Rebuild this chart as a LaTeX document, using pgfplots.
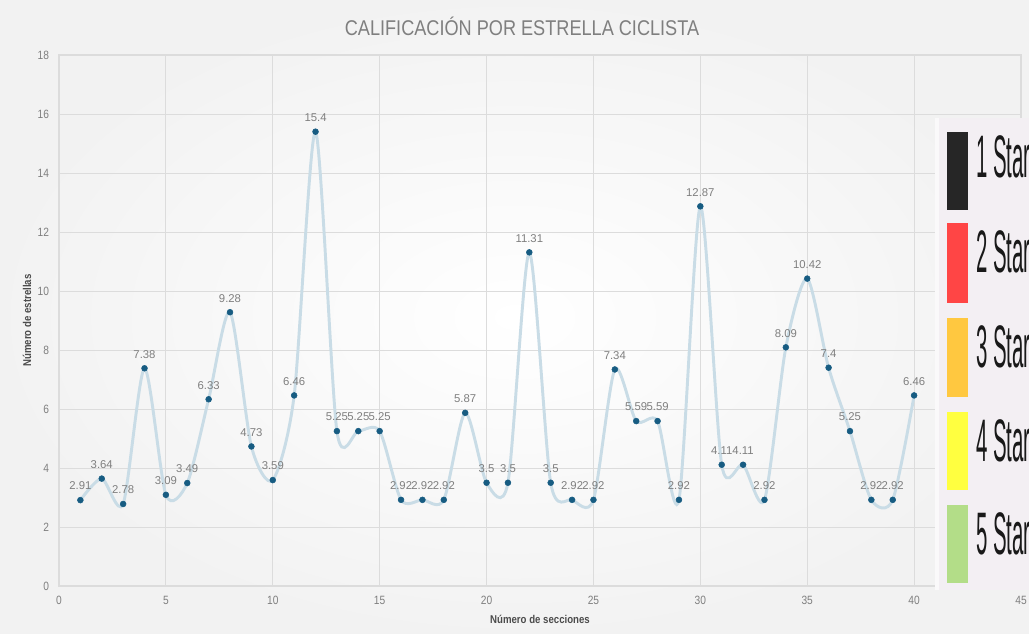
\documentclass[border=0pt]{standalone}
\usepackage{pgfplots}
\pgfplotsset{compat=1.18}
\usepackage{pgfplotstable}
\usepackage{fontspec}
\setmainfont{Liberation Sans}
\newfontfamily\narrowfont{Liberation Sans}[FakeStretch=0.85]

\definecolor{txtgray}{HTML}{7F7F7F}
\definecolor{gridgray}{HTML}{DCDCDC}
\definecolor{linecol}{HTML}{C9DCE6}
\definecolor{markcol}{HTML}{175C82}
\definecolor{keybg}{HTML}{F3EFF3}
\definecolor{star1}{HTML}{262626}
\definecolor{star2}{HTML}{FF4545}
\definecolor{star3}{HTML}{FFC840}
\definecolor{star4}{HTML}{FFFF40}
\definecolor{star5}{HTML}{B3DD88}

% sección, estrellas
\pgfplotstableread{
x y lab
1 2.91 2.91
2 3.64 3.64
3 2.78 2.78
4 7.38 7.38
5 3.09 3.09
6 3.49 3.49
7 6.33 6.33
8 9.28 9.28
9 4.73 4.73
10 3.59 3.59
11 6.46 6.46
12 15.4 15.4
13 5.25 5.25
14 5.25 5.25
15 5.25 5.25
16 2.92 2.92
17 2.92 2.92
18 2.92 2.92
19 5.87 5.87
20 3.5 3.5
21 3.5 3.5
22 11.31 11.31
23 3.5 3.5
24 2.92 2.92
25 2.92 2.92
26 7.34 7.34
27 5.59 5.59
28 5.59 5.59
29 2.92 2.92
30 12.87 12.87
31 4.11 4.11
32 4.11 4.11
33 2.92 2.92
34 8.09 8.09
35 10.42 10.42
36 7.4 7.4
37 5.25 5.25
38 2.92 2.92
39 2.92 2.92
40 6.46 6.46
}\estrellas

\begin{document}
\begin{tikzpicture}
\useasboundingbox (0,0) rectangle (771.75pt,475.5pt);
\shade[inner color=white,outer color=black!5] (0,0) rectangle (771.75pt,475.5pt);

\node[font=\narrowfont\fontsize{16}{16}\selectfont, text=txtgray] at (391.5pt,456pt) {CALIFICACIÓN POR ESTRELLA CICLISTA};

\begin{axis}[
  at={(44.25pt,36pt)}, anchor=south west,
  scale only axis, width=721.5pt, height=398.25pt,
  xmin=0, xmax=45, ymin=0, ymax=18,
  xtick={0,5,...,45}, ytick={0,2,...,18},
  major tick length=0pt,
  grid=major,
  major grid style={draw=gridgray, line width=0.6pt},
  axis line style={draw=gridgray, line width=0.8pt},
  /pgf/number format/assume math mode=true,
  tick label style={font=\narrowfont\fontsize{9}{9}\selectfont, text=txtgray},
  xticklabel style={yshift=-4pt},
  yticklabel style={xshift=-4pt},
  xlabel={Número de secciones},
  ylabel={Número de estrellas},
  label style={font=\narrowfont\bfseries\fontsize{8.5}{8.5}\selectfont, text=black!70},
  xlabel style={at={(axis description cs:0.5,-0.0621)}, anchor=center},
  ylabel style={at={(axis description cs:-0.0333,0.5)}, anchor=center},
  clip=false,
]
\addplot[linecol, line width=2.2pt, smooth, tension=0.45] table[x=x,y=y] {\estrellas};
\addplot[only marks, mark=*, mark size=2.2pt, mark options={fill=markcol, draw=markcol},
  point meta=explicit symbolic,
  nodes near coords,
  every node near coord/.style={font=\fontsize{8.5}{8.5}\selectfont, text=txtgray, anchor=south, yshift=4pt}]
  table[x=x,y=y,meta=lab] {\estrellas};
\end{axis}

% cuadro de niveles de estrellas
\fill[keybg] (701.25pt,33pt) rectangle (771.75pt,387pt);
\fill[white!60!keybg] (701.25pt,33pt) rectangle (704pt,387pt);
\fill[star1] (710.25pt,318pt) rectangle (726pt,376.5pt);
\fill[star2] (710.25pt,248.25pt) rectangle (726pt,308.25pt);
\fill[star3] (710.25pt,177.75pt) rectangle (726pt,237pt);
\fill[star4] (710.25pt,108pt) rectangle (726pt,166.5pt);
\fill[star5] (710.25pt,38.25pt) rectangle (726pt,96.75pt);
\begin{scope}[every node/.style={anchor=base west, inner sep=0pt, xscale=0.34, font=\fontsize{45}{45}\selectfont, text=black!90}]
\node at (732pt,342pt) {1 Star};
\node at (732pt,270.75pt) {2 Star};
\node at (732pt,199.5pt) {3 Star};
\node at (732pt,129pt) {4 Star};
\node at (732pt,59.25pt) {5 Star};
\end{scope}
\end{tikzpicture}
\end{document}
